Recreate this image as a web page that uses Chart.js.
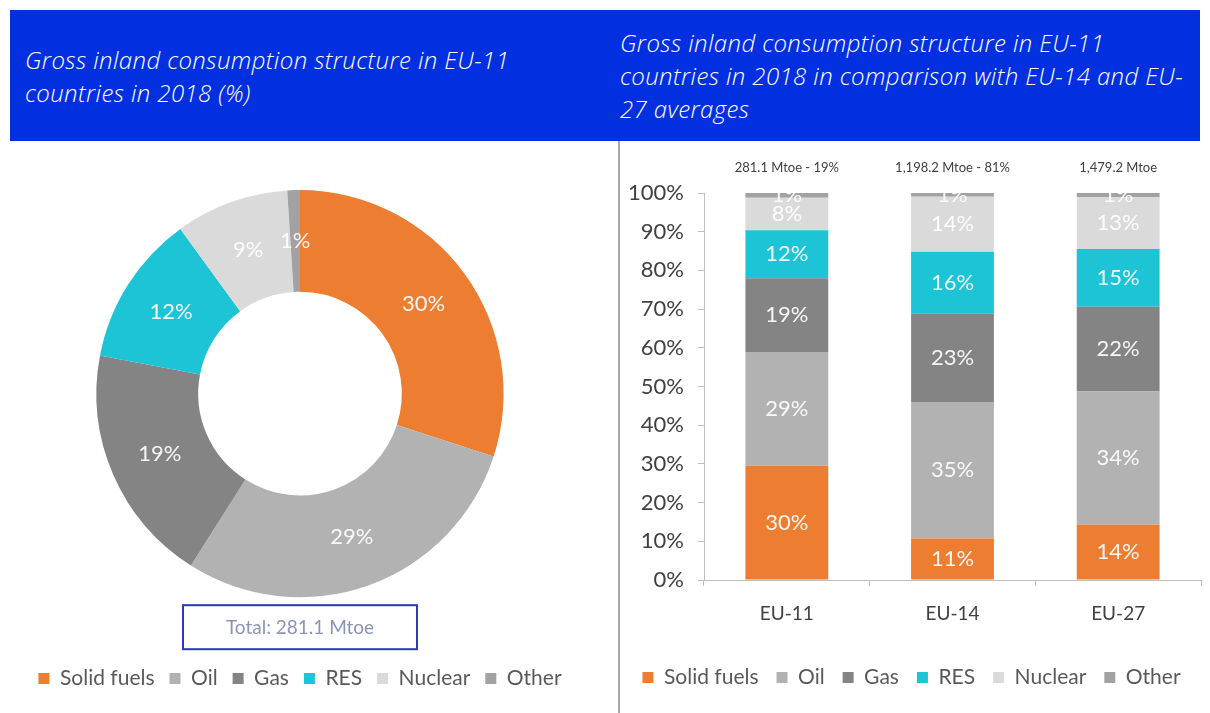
<!DOCTYPE html>
<html>
<head>
<meta charset="utf-8">
<script src="https://cdn.jsdelivr.net/npm/chart.js@4.4.1/dist/chart.umd.min.js"></script>
<style>
  body { margin: 0; background: #fff; width: 1210px; height: 713px; overflow: hidden; position: relative; font-family: Lato, sans-serif; }
  #band { position: absolute; left: 10px; top: 10px; width: 1190px; height: 131px; background: #0230e0; }
  .title { position: absolute; top: 10px; height: 131px; display: flex; align-items: center; color: #fff; font-style: italic; font-weight: 300; font-size: 24px; letter-spacing: 0.4px; line-height: 33px; font-family: "Open Sans", sans-serif; white-space: nowrap; }
  #t1 { left: 25px; }
  #t2 { left: 620px; }
  #divider { position: absolute; left: 618px; top: 141px; width: 2px; height: 572px; background: #a6a6a6; }
  #pieBox { position: absolute; left: 0; top: 143px; width: 600px; height: 570px; }
  #barBox { position: absolute; left: 622px; top: 143px; width: 588px; height: 570px; }
</style>
</head>
<body>
<div id="band"></div>
<div class="title" id="t1"><div>Gross inland consumption structure in EU-11<br>countries in 2018 (%)</div></div>
<div class="title" id="t2"><div>Gross inland consumption structure in EU-11<br>countries in 2018 in comparison with EU-14 and EU-<br>27 averages</div></div>
<div id="divider"></div>
<div id="pieBox"><canvas id="pie"></canvas></div>
<div id="barBox"><canvas id="bar"></canvas></div>
<script>
// fuel types and colours
const fuels = ['Solid fuels', 'Oil', 'Gas', 'RES', 'Nuclear', 'Other'];
const fuelColors = ['#ed7d31', '#b2b2b2', '#848484', '#1cc4d6', '#dadada', '#a2a2a2'];

// doughnut: EU-11 structure (%)
const eu11Share = [30, 29, 19, 12, 9, 1];
const totalLabel = 'Total: 281.1 Mtoe';

// stacked bars (%)
const regions = ['EU-11', 'EU-14', 'EU-27'];
const regionNotes = ['281.1 Mtoe - 19%', '1,198.2 Mtoe - 81%', '1,479.2 Mtoe'];
const solidFuels = [29.5, 10.7, 14.3];
const oil = [29.4, 35.3, 34.4];
const gas = [19.1, 22.8, 21.9];
const res = [12.4, 16.0, 14.9];
const nuclear = [8.4, 14.2, 13.4];
const other = [1.2, 1.0, 1.1];
const barSeries = [solidFuels, oil, gas, res, nuclear, other];

const textGrey = '#404040';
const legendGrey = '#595959';

// white % labels inside arcs / bars
const valueLabels = {
    id: 'valueLabels',
    afterDatasetsDraw(chart) {
        const ctx = chart.ctx;
        ctx.save();
        ctx.fillStyle = 'rgba(255,255,255,0.92)';
        ctx.font = '22px Lato, sans-serif';
        ctx.textAlign = 'center';
        ctx.textBaseline = 'middle';
        chart.data.datasets.forEach((ds, di) => {
            chart.getDatasetMeta(di).data.forEach((el, i) => {
                let p;
                if (chart.config.type === 'doughnut') {
                    p = el.tooltipPosition();
                } else {
                    p = { x: el.x, y: (el.y + el.base) / 2 };
                }
                ctx.fillText(Math.round(ds.data[i]) + '%', p.x, p.y);
            });
        });
        ctx.restore();
    }
};

// box round the "Total" subtitle
const totalBox = {
    id: 'totalBox',
    afterDraw(chart) {
        const sub = chart.boxes.find(b => b.options && b.options.text === totalLabel);
        if (!sub) return;
        const ctx = chart.ctx;
        const cx = (sub.left + sub.right) / 2;
        const cy = sub.top + 19 + 11;
        ctx.save();
        ctx.strokeStyle = '#2b39b8';
        ctx.lineWidth = 2;
        ctx.strokeRect(cx - 117, cy - 22, 234, 44);
        ctx.restore();
    }
};

// Mtoe notes above the bars
const topNotes = {
    id: 'topNotes',
    afterDraw(chart) {
        const ctx = chart.ctx;
        const x = chart.scales.x;
        ctx.save();
        ctx.fillStyle = textGrey;
        ctx.font = '13px Lato, sans-serif';
        ctx.textAlign = 'center';
        ctx.textBaseline = 'middle';
        regionNotes.forEach((t, i) => {
            ctx.fillText(t, x.getPixelForValue(i), chart.chartArea.top - 25);
        });
        ctx.restore();
    }
};

function legendOpts(pad) {
    return {
        position: 'bottom',
        labels: {
            boxWidth: 11,
            boxHeight: 11,
            padding: pad,
            color: legendGrey,
            font: { family: 'Lato, sans-serif', size: 21 }
        }
    };
}

new Chart(document.getElementById('pie'), {
    type: 'doughnut',
    data: {
        labels: fuels,
        datasets: [{
            data: eu11Share,
            backgroundColor: fuelColors,
            borderWidth: 0
        }]
    },
    options: {
        responsive: true,
        maintainAspectRatio: false,
        animation: false,
        cutout: '50%',
        layout: { padding: { top: 47, bottom: 14, left: 0, right: 0 } },
        plugins: {
            legend: legendOpts(15),
            tooltip: { enabled: false },
            subtitle: {
                display: true,
                text: totalLabel,
                position: 'bottom',
                weight: 500,
                color: '#8a93b8',
                font: { family: 'Lato, sans-serif', size: 19, weight: 'normal' },
                padding: { top: 19, bottom: 14 }
            }
        }
    },
    plugins: [valueLabels, totalBox]
});

new Chart(document.getElementById('bar'), {
    type: 'bar',
    data: {
        labels: regions,
        datasets: fuels.map((f, i) => ({
            label: f,
            data: barSeries[i],
            backgroundColor: fuelColors[i],
            borderWidth: 0,
            barPercentage: 0.5,
            categoryPercentage: 1.0
        }))
    },
    options: {
        responsive: true,
        maintainAspectRatio: false,
        animation: false,
        layout: { padding: { top: 50, bottom: 15, left: 0, right: 9 } },
        scales: {
            x: {
                stacked: true,
                grid: { display: true, drawOnChartArea: false, offset: true, tickLength: 6, color: '#bfbfbf' },
                border: { color: '#bfbfbf', width: 1 },
                ticks: { color: textGrey, font: { family: 'Lato, sans-serif', size: 19 }, padding: 16 },
                afterFit(scale) { scale.height = 69; }
            },
            y: {
                stacked: true,
                min: 0,
                max: 100,
                grid: { display: true, drawOnChartArea: false, tickLength: 6, color: '#bfbfbf' },
                border: { color: '#bfbfbf', width: 1 },
                ticks: {
                    stepSize: 10,
                    color: textGrey,
                    padding: 14,
                    font: { family: 'Lato, sans-serif', size: 22 },
                    callback: v => v + '%'
                },
                afterFit(scale) { scale.width = 82; }
            }
        },
        plugins: {
            legend: legendOpts(18),
            tooltip: { enabled: false }
        }
    },
    plugins: [valueLabels, topNotes]
});
</script>
</body>
</html>
